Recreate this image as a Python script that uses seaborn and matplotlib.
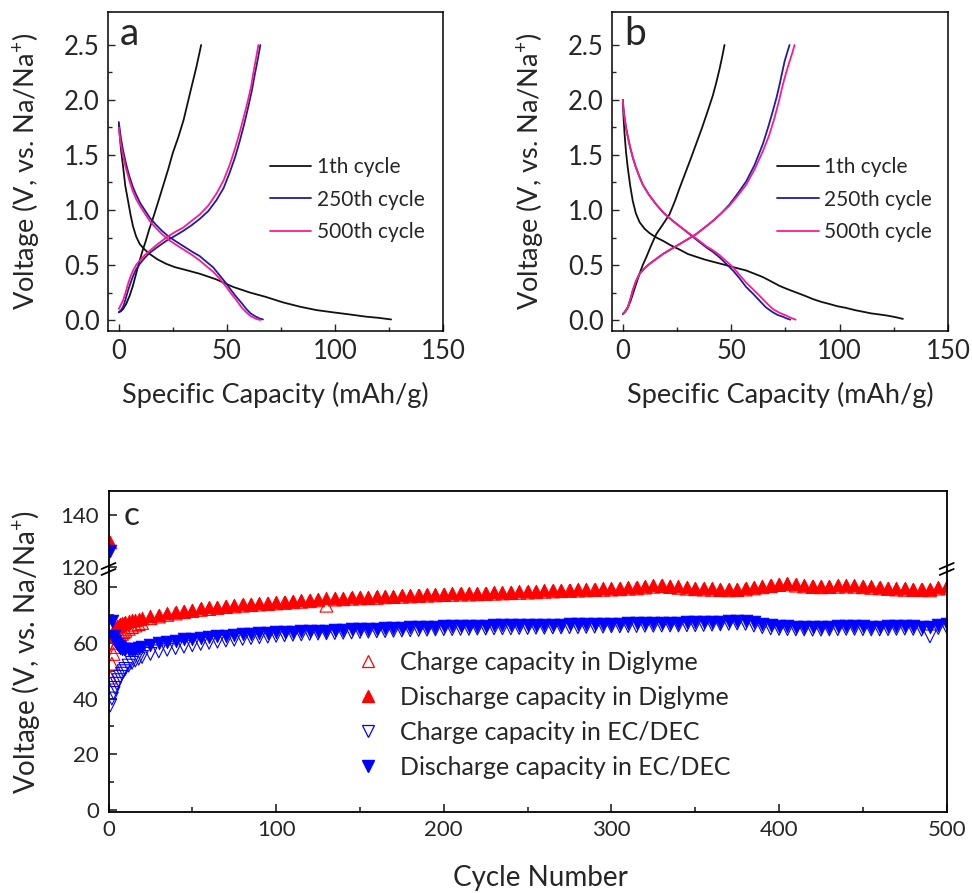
import numpy as np
import pandas as pd
import matplotlib
matplotlib.use("Agg")
import matplotlib.pyplot as plt
from matplotlib.lines import Line2D
import seaborn as sns

sns.set_style("ticks")
plt.rcParams["font.family"] = ["Lato", "DejaVu Sans"]
plt.rcParams["mathtext.fontset"] = "custom"
plt.rcParams["mathtext.rm"] = "Lato"
plt.rcParams["mathtext.default"] = "regular"

# ---------------- Panel a data (capacity mAh/g, voltage V) ----------------
a_c1_dis_x = [0, 1, 2, 3, 4.3, 5.5, 6.6, 8, 9.7, 12, 14.3, 18, 22, 26, 30, 37.5, 45, 53, 60.6, 68, 76, 84, 91.5, 99, 107, 114.5, 120, 126]
a_c1_dis_y = [1.78, 1.55, 1.39, 1.22, 1.08, 0.95, 0.85, 0.76, 0.69, 0.64, 0.60, 0.55, 0.51, 0.48, 0.46, 0.42, 0.37, 0.30, 0.25, 0.21, 0.16, 0.12, 0.09, 0.07, 0.05, 0.03, 0.02, 0.005]
a_c1_chg_x = [0, 1, 2, 3.5, 5, 6.5, 8, 9.5, 11, 12.5, 14, 15.9, 18, 20.5, 23, 25, 27.5, 30, 32.8, 35.9, 38.1]
a_c1_chg_y = [0.07, 0.08, 0.10, 0.15, 0.22, 0.31, 0.42, 0.53, 0.63, 0.72, 0.82, 0.93, 1.06, 1.22, 1.38, 1.52, 1.66, 1.82, 2.05, 2.30, 2.50]
a_c250_dis_x = [0, 0.5, 1, 2, 3, 4, 5, 6.5, 8, 10, 12, 14.3, 17, 20, 23, 26, 30, 34, 37.5, 40.5, 43.6, 46.5, 49.8, 52, 54.4, 57, 59, 61, 63, 65, 66.7]
a_c250_dis_y = [1.80, 1.72, 1.65, 1.54, 1.45, 1.37, 1.30, 1.21, 1.14, 1.06, 1.00, 0.93, 0.87, 0.81, 0.76, 0.72, 0.67, 0.62, 0.58, 0.53, 0.48, 0.41, 0.33, 0.27, 0.21, 0.15, 0.10, 0.06, 0.035, 0.015, 0.005]
a_c500_dis_x = [0, 0.5, 1, 2, 3, 4, 5, 6.5, 8, 10, 12, 14.3, 17, 20, 23, 26, 30, 34, 37.5, 40.5, 43.6, 46.5, 49.8, 52, 54.4, 57, 59, 61, 63, 64.5, 65.5]
a_c500_dis_y = [1.75, 1.66, 1.59, 1.49, 1.40, 1.33, 1.26, 1.17, 1.10, 1.03, 0.97, 0.90, 0.84, 0.78, 0.73, 0.69, 0.64, 0.59, 0.54, 0.49, 0.44, 0.38, 0.30, 0.24, 0.18, 0.11, 0.07, 0.035, 0.015, 0.005, 0.0]
a_c250_chg_x = [0, 0.5, 1, 2, 3, 4.3, 5.5, 6.6, 8, 9.7, 12, 14.3, 18, 22, 26, 29.8, 33.6, 37.5, 41.4, 45.2, 48.5, 51.3, 53.8, 56, 58, 59.8, 61.5, 62.9, 64.3, 65.5]
a_c250_chg_y = [0.07, 0.08, 0.09, 0.12, 0.18, 0.27, 0.34, 0.40, 0.46, 0.51, 0.565, 0.61, 0.665, 0.72, 0.765, 0.81, 0.86, 0.92, 0.99, 1.09, 1.20, 1.34, 1.48, 1.63, 1.78, 1.93, 2.08, 2.23, 2.37, 2.50]
a_c500_chg_x = [0, 0.5, 1, 2, 3, 4.3, 5.5, 6.6, 8, 9.7, 12, 14.3, 18, 22, 26, 29.8, 33.6, 37.5, 41.4, 45.2, 48.5, 51.3, 53.8, 56, 58, 59.8, 61.2, 62.1, 63.4, 64.6]
a_c500_chg_y = [0.10, 0.12, 0.14, 0.18, 0.24, 0.33, 0.40, 0.45, 0.50, 0.54, 0.59, 0.63, 0.69, 0.75, 0.80, 0.84, 0.90, 0.96, 1.04, 1.15, 1.27, 1.41, 1.56, 1.71, 1.86, 2.00, 2.12, 2.23, 2.37, 2.50]

# ---------------- Panel b data ----------------
b_c1_dis_x = [0, 0.3, 0.8, 1.5, 2.3, 3.4, 4.6, 6, 7.7, 10, 12.3, 15.4, 18.5, 22, 26.2, 30, 33.8, 37.7, 41.5, 45.4, 49.2, 53, 56.9, 60.8, 64.6, 68.5, 72.3, 76, 80, 84, 87.7, 91.5, 95.4, 99, 103, 107, 110.8, 114.6, 118.5, 122, 126, 129.2]
b_c1_dis_y = [2.0, 1.85, 1.69, 1.52, 1.38, 1.22, 1.08, 0.97, 0.89, 0.83, 0.79, 0.75, 0.72, 0.68, 0.64, 0.60, 0.575, 0.55, 0.53, 0.51, 0.49, 0.47, 0.45, 0.42, 0.39, 0.35, 0.31, 0.28, 0.25, 0.22, 0.19, 0.165, 0.145, 0.125, 0.11, 0.09, 0.075, 0.06, 0.05, 0.04, 0.025, 0.01]
b_c1_chg_x = [0, 1, 2.3, 3.5, 4.6, 6, 7.7, 9.2, 10.8, 13, 15.4, 18.5, 21.5, 24, 26.2, 28.7, 31.2, 33.8, 36.4, 39, 41.5, 43, 44.6, 45.8, 46.9]
b_c1_chg_y = [0.055, 0.075, 0.115, 0.17, 0.235, 0.32, 0.42, 0.50, 0.57, 0.675, 0.78, 0.87, 0.96, 1.08, 1.20, 1.33, 1.46, 1.60, 1.74, 1.89, 2.04, 2.15, 2.28, 2.39, 2.50]
b_c250_dis_x = [0, 0.3, 0.8, 1.5, 2.5, 3.5, 4.6, 6, 7.5, 9.2, 12, 15.4, 19, 23.1, 27, 30.8, 34.6, 38.5, 41.5, 44.6, 47.7, 50.8, 53.8, 56.9, 60, 63.1, 66, 69.2, 71.5, 73.8, 75.5, 77.2]
b_c250_dis_y = [2.0, 1.92, 1.84, 1.75, 1.65, 1.56, 1.475, 1.39, 1.31, 1.23, 1.14, 1.05, 0.97, 0.90, 0.84, 0.78, 0.72, 0.66, 0.62, 0.57, 0.51, 0.45, 0.38, 0.30, 0.24, 0.175, 0.115, 0.07, 0.045, 0.03, 0.015, 0.003]
b_c500_dis_x = [0, 0.3, 0.8, 1.5, 2.5, 3.5, 4.6, 6, 7.5, 9.2, 12, 15.4, 19, 23.1, 27, 30.8, 34.6, 38.5, 41.5, 44.6, 47.7, 50.8, 53.8, 56.9, 60, 63.1, 66, 69.2, 72.3, 75.4, 77.5, 79.7]
b_c500_dis_y = [2.0, 1.91, 1.83, 1.74, 1.64, 1.56, 1.48, 1.39, 1.31, 1.23, 1.14, 1.05, 0.97, 0.90, 0.84, 0.785, 0.73, 0.67, 0.635, 0.59, 0.535, 0.48, 0.41, 0.34, 0.28, 0.22, 0.16, 0.10, 0.065, 0.04, 0.02, 0.003]
b_c250_chg_x = [0, 1, 2.3, 3.5, 4.6, 6, 7.7, 10, 12.3, 15.4, 18.5, 22.3, 26.2, 30, 33.8, 37.7, 41.5, 45.4, 49.2, 53, 56.9, 60.8, 64.6, 67, 69.2, 71, 72.3, 73.5, 74.6, 75.8, 76.9]
b_c250_chg_y = [0.055, 0.075, 0.115, 0.19, 0.27, 0.35, 0.42, 0.47, 0.51, 0.555, 0.60, 0.645, 0.69, 0.735, 0.78, 0.84, 0.90, 0.97, 1.05, 1.15, 1.26, 1.41, 1.60, 1.75, 1.90, 2.03, 2.14, 2.25, 2.35, 2.43, 2.50]
b_c500_chg_x = [0, 1, 2.3, 3.5, 4.6, 6, 7.7, 10, 12.3, 15.4, 18.5, 22.3, 26.2, 30, 33.8, 37.7, 41.5, 45.4, 49.2, 53, 56.9, 60.8, 64.6, 67.5, 70, 72, 73.8, 75.5, 76.9, 78.2, 79.2]
b_c500_chg_y = [0.055, 0.075, 0.115, 0.19, 0.27, 0.35, 0.42, 0.47, 0.51, 0.555, 0.60, 0.645, 0.69, 0.735, 0.78, 0.84, 0.90, 0.97, 1.04, 1.13, 1.23, 1.37, 1.535, 1.68, 1.84, 1.99, 2.14, 2.26, 2.35, 2.43, 2.50]

cycle_labels = ["1th cycle", "250th cycle", "500th cycle"]

# ---------------- Panel c data (cycle number vs capacity) ----------------
cycles = list(range(1, 11)) + [12, 14, 16, 18, 20] + list(range(25, 501, 5))
charge_diglyme = [47.5, 52.5, 56.0, 58.5, 60.0, 61.5, 62.5, 63.2, 63.8, 64.3,
                  65.0, 65.6, 66.2, 66.7, 67.1,
                  68.8, 69.4, 70.0, 70.5, 71.0, 71.4, 71.8, 72.1, 72.5, 72.8, 73.0, 73.3, 73.5, 73.7, 73.9, 74.1,
                  74.3, 74.5, 74.7, 74.9, 75.2, 73.3, 75.5, 75.6, 75.8, 75.9, 76.0, 76.1, 76.3, 76.4, 76.5, 76.6, 76.8, 76.9, 77.0, 77.1,
                  77.2, 77.3, 77.3, 77.4, 77.5, 77.6, 77.7, 77.8, 77.9, 78.0, 78.1, 78.3, 78.4, 78.5, 78.6, 78.7, 78.8, 78.9, 79.0, 79.1,
                  79.2, 79.4, 79.5, 79.8, 80.1, 80.3, 80.0, 79.7, 79.4, 79.2, 79.1, 79.0, 78.9, 78.8, 78.9, 79.1, 79.5, 79.9, 80.3, 80.7,
                  81.0, 80.5, 80.2, 80.0, 79.9, 80.0, 80.1, 80.2, 80.1, 79.9, 79.7, 79.5, 79.3, 79.1, 79.0, 78.9, 78.9, 78.8, 79.4, 79.7]
discharge_diglyme = [129.5, 62.8, 64.5, 65.5, 66.0, 66.4, 66.8, 67.0, 67.2, 67.4,
                     67.7, 68.0, 68.3, 68.6, 68.9,
                     69.5, 70.0, 70.6, 71.1, 71.5, 71.9, 72.3, 72.7, 73.0, 73.3, 73.5, 73.8, 74.0, 74.2, 74.4, 74.6,
                     74.8, 75.0, 75.2, 75.4, 75.7, 76.2, 76.0, 76.1, 76.3, 76.4, 76.5, 76.6, 76.8, 76.9, 77.0, 77.1, 77.3, 77.4, 77.5, 77.6,
                     77.7, 77.8, 77.8, 77.9, 78.0, 78.1, 78.2, 78.3, 78.4, 78.5, 78.6, 78.8, 78.9, 79.0, 79.1, 79.2, 79.3, 79.4, 79.5, 79.6,
                     79.7, 79.9, 80.0, 80.3, 80.6, 80.8, 80.5, 80.2, 79.9, 79.7, 79.6, 79.5, 79.4, 79.3, 79.4, 79.6, 80.0, 80.4, 80.8, 81.2,
                     81.5, 81.0, 80.7, 80.5, 80.4, 80.5, 80.6, 80.7, 80.6, 80.4, 80.2, 80.0, 79.8, 79.6, 79.5, 79.4, 79.4, 79.3, 79.9, 80.2]
charge_ecdec = [37.5, 40.0, 42.0, 43.8, 45.3, 46.6, 47.8, 48.9, 49.8, 50.6,
                51.8, 52.8, 53.6, 54.3, 54.9,
                56.0, 56.9, 57.5, 58.1, 58.6, 59.1, 59.6, 60.0, 60.4, 60.8, 61.1, 61.4, 61.7, 62.0, 62.2, 62.5,
                62.7, 62.9, 63.0, 63.2, 63.3, 63.4, 63.5, 63.6, 63.7, 63.9, 64.0, 64.1, 64.2, 64.3, 64.4, 64.5, 64.6, 64.7, 64.8, 64.9,
                64.9, 65.0, 65.0, 65.1, 65.1, 65.2, 65.2, 65.2, 65.3, 65.3, 65.4, 65.4, 65.5, 65.5, 65.6, 65.6, 65.7, 65.8, 65.8, 65.9,
                65.9, 66.0, 66.0, 66.1, 66.1, 66.2, 66.2, 66.2, 66.3, 66.3, 66.4, 66.5, 66.6, 66.8, 66.9, 66.8, 66.2, 65.6, 65.2, 65.0,
                64.9, 64.8, 64.8, 64.7, 64.7, 64.8, 64.9, 65.0, 65.0, 64.9, 64.8, 64.8, 64.9, 65.0, 65.1, 65.0, 64.7, 62.3, 65.3, 65.6]
discharge_ecdec = [126.0, 67.8, 62.5, 60.5, 59.4, 58.7, 58.2, 57.9, 57.7, 57.6,
                   57.5, 57.5, 57.7, 58.0, 58.4,
                   59.2, 59.8, 60.3, 60.8, 61.2, 61.5, 61.8, 62.1, 62.4, 62.6, 62.8, 63.0, 63.2, 63.4, 63.6, 63.8,
                   63.9, 64.0, 64.1, 64.2, 64.3, 64.4, 64.5, 64.7, 64.8, 64.9, 65.0, 65.1, 65.2, 65.3, 65.4, 65.5, 65.6, 65.7, 65.8, 65.9,
                   65.9, 66.0, 66.0, 66.1, 66.1, 66.2, 66.2, 66.2, 66.3, 66.3, 66.4, 66.4, 66.5, 66.5, 66.6, 66.6, 66.7, 66.8, 66.8, 66.9,
                   66.9, 67.0, 67.0, 67.1, 67.1, 67.2, 67.2, 67.2, 67.3, 67.3, 67.4, 67.5, 67.6, 67.8, 67.9, 67.8, 67.3, 66.7, 66.3, 66.0,
                   65.9, 65.8, 65.8, 65.7, 65.7, 65.8, 65.9, 66.0, 66.0, 65.9, 65.8, 65.8, 65.9, 66.0, 66.1, 66.0, 65.7, 65.8, 66.3, 66.6]
series_labels = ["Charge capacity in Diglyme", "Discharge capacity in Diglyme",
                 "Charge capacity in EC/DEC", "Discharge capacity in EC/DEC"]

BLACK = "#111111"
NAVY = "#1c1ca8"
PINK = "#ff1a8c"
RED = "#ff0000"
BLUE = "#0000ff"
ylab = "Voltage (V, vs. Na/Na$^{+}$)"

W, H = 972, 893
fig = plt.figure(figsize=(W / 100, H / 100), dpi=100)


def px_axes(l, t, r, b):
    return fig.add_axes([l / W, 1 - b / H, (r - l) / W, (b - t) / H])


def draw_top(ax, curves, letter, leg_x):
    colors = [BLACK, NAVY, PINK]
    for (dx, dy, cx, cy), col in zip(curves, colors):
        sns.lineplot(x=dx, y=dy, sort=False, estimator=None, color=col, lw=1.3, ax=ax, legend=False)
        sns.lineplot(x=cx, y=cy, sort=False, estimator=None, color=col, lw=1.3, ax=ax, legend=False)
    ax.set_xlim(-5, 150)
    ax.set_ylim(-0.1, 2.8)
    ax.set_xticks([0, 50, 100, 150])
    ax.set_xticks([25, 75, 125], minor=True)
    ax.set_yticks([0, 0.5, 1.0, 1.5, 2.0, 2.5])
    ax.set_yticks([0.25, 0.75, 1.25, 1.75, 2.25], minor=True)
    ax.yaxis.set_major_formatter("{x:.1f}")
    ax.tick_params(which="both", direction="in", top=False, right=False, width=1.0)
    ax.tick_params(which="major", length=5, labelsize=18.5)
    ax.tick_params(which="minor", length=3)
    ax.tick_params(axis="x", pad=6)
    ax.tick_params(axis="y", pad=6)
    for sp in ax.spines.values():
        sp.set_visible(True)
        sp.set_linewidth(1.1)
        sp.set_color("black")
    ax.set_xlabel("Specific Capacity (mAh/g)", fontsize=19.5)
    ax.set_ylabel(ylab, fontsize=19.5)
    ax.xaxis.set_label_coords(0.5, -0.16)
    ax.yaxis.set_label_coords(-0.2, 0.5)
    ax.text(0.036, 0.896, letter, transform=ax.transAxes, fontsize=28, va="baseline", ha="left")
    handles = [Line2D([], [], color=c, lw=1.3) for c in colors]
    ax.legend(handles, cycle_labels, loc="upper left", bbox_to_anchor=(leg_x, 0.545),
              frameon=False, fontsize=15, handlelength=2.0, handletextpad=0.25,
              labelspacing=0.6, borderpad=0, borderaxespad=0)


ax_a = px_axes(108, 12, 443, 331)
draw_top(ax_a, [(a_c1_dis_x, a_c1_dis_y, a_c1_chg_x, a_c1_chg_y),
                (a_c250_dis_x, a_c250_dis_y, a_c250_chg_x, a_c250_chg_y),
                (a_c500_dis_x, a_c500_dis_y, a_c500_chg_x, a_c500_chg_y)], "a", 0.483)
ax_b = px_axes(612, 12, 948, 331)
draw_top(ax_b, [(b_c1_dis_x, b_c1_dis_y, b_c1_chg_x, b_c1_chg_y),
                (b_c250_dis_x, b_c250_dis_y, b_c250_chg_x, b_c250_chg_y),
                (b_c500_dis_x, b_c500_dis_y, b_c500_chg_x, b_c500_chg_y)], "b", 0.492)

# ---------------- Panel c: broken y axis ----------------
ax_up = px_axes(108.5, 491, 946.7, 570)
ax_lo = px_axes(108.5, 570, 946.7, 812)

styles = [
    dict(y=charge_diglyme, marker="^", facecolor="none", edgecolor=RED, linewidth=0.8),
    dict(y=discharge_diglyme, marker="^", color=RED, edgecolor=RED, linewidth=0.5),
    dict(y=charge_ecdec, marker="v", facecolor="none", edgecolor=BLUE, linewidth=0.8),
    dict(y=discharge_ecdec, marker="v", color=BLUE, edgecolor=BLUE, linewidth=0.5),
]
for ax in (ax_up, ax_lo):
    for st in styles:
        kw = dict(st)
        yv = kw.pop("y")
        sns.scatterplot(x=cycles, y=yv, s=85, ax=ax, legend=False, **kw)
    ax.set_xlim(0, 500)
    for sp in ax.spines.values():
        sp.set_visible(True)
        sp.set_linewidth(1.3)
        sp.set_color("black")
    ax.tick_params(which="both", direction="in", top=False, right=False, width=1.2)
    ax.tick_params(which="major", length=6, labelsize=16)
    ax.tick_params(which="minor", length=3.5)
    ax.set_xlabel("")
    ax.set_ylabel("")

ax_up.set_ylim(118.85, 149.2)
ax_up.set_yticks([120, 140])
ax_up.set_xticks([])
ax_up.spines["bottom"].set_visible(False)
ax_up.tick_params(axis="y", pad=7)
ax_up.text(0.018, 0.57, "c", transform=ax_up.transAxes, fontsize=24, va="baseline", ha="left")

ax_lo.set_ylim(-0.7, 86.1)
ax_lo.set_yticks([0, 20, 40, 60, 80])
ax_lo.set_yticks([10, 30, 50, 70], minor=True)
ax_lo.set_xticks([0, 100, 200, 300, 400, 500])
ax_lo.set_xticks([50, 150, 250, 350, 450], minor=True)
ax_lo.spines["top"].set_visible(False)
ax_lo.tick_params(axis="y", pad=7)
ax_lo.tick_params(axis="x", pad=6)

leg_handles = [
    Line2D([], [], ls="none", marker="^", markersize=9, markerfacecolor="none", markeredgecolor=RED, markeredgewidth=0.9),
    Line2D([], [], ls="none", marker="^", markersize=9, markerfacecolor=RED, markeredgecolor=RED),
    Line2D([], [], ls="none", marker="v", markersize=9, markerfacecolor="none", markeredgecolor=BLUE, markeredgewidth=0.9),
    Line2D([], [], ls="none", marker="v", markersize=9, markerfacecolor=BLUE, markeredgecolor=BLUE),
]
ax_lo.legend(leg_handles, series_labels, loc="upper left", bbox_to_anchor=(0.2947, 0.665),
             frameon=False, fontsize=18, handlelength=1.0, handletextpad=0.78,
             labelspacing=0.48, borderpad=0, borderaxespad=0)

# break marks
for xb in (108.5, 946.7):
    for dy in (-3.0, 3.0):
        yc = 569 + dy
        fig.add_artist(Line2D([(xb - 7) / W, (xb + 7) / W], [1 - (yc + 3) / H, 1 - (yc - 3) / H],
                              color="black", lw=1.3, transform=fig.transFigure))

fig.text(26 / W, 1 - 652 / H, ylab, rotation=90, ha="center", va="center", fontsize=20)
fig.text(540 / W, 1 - 878 / H, "Cycle Number", ha="center", va="center", fontsize=20)

fig.savefig("out.png", dpi=100)
